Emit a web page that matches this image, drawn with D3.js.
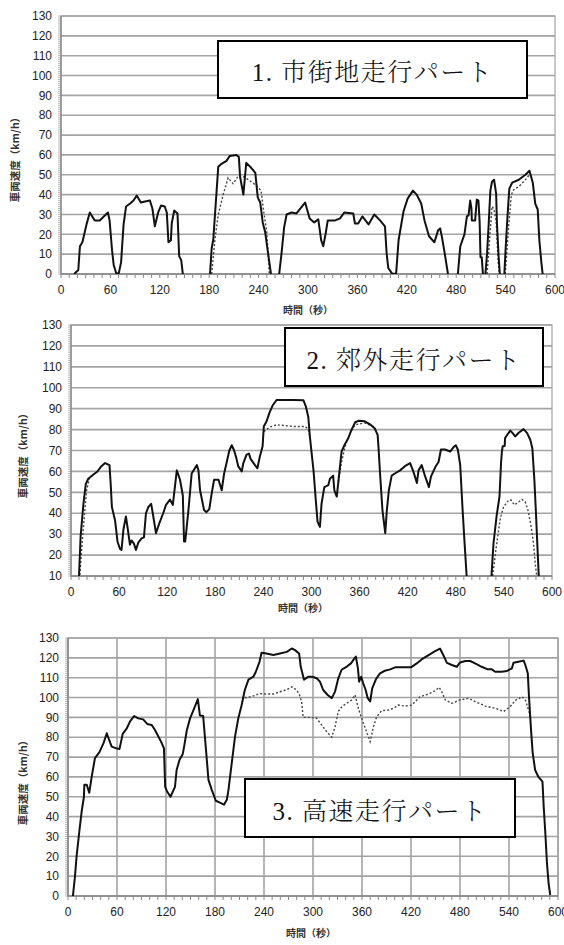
<!DOCTYPE html>
<html><head><meta charset="utf-8">
<script src="https://cdn.jsdelivr.net/npm/d3@7"></script>
<style>
html,body{margin:0;padding:0;background:#fff;}
svg{display:block;}
</style></head>
<body>
<svg id="c" width="564" height="945"></svg>
<script>
// ---------- DATA ----------
const xTicks = [0, 60, 120, 180, 240, 300, 360, 420, 480, 540, 600];
const p1YTicks = [0,10,20,30,40,50,60,70,80,90,100,110,120,130];
const p2YTicks = [10,20,30,40,50,60,70,80,90,100,110,120,130];
const p3YTicks = [0,10,20,30,40,50,60,70,80,90,100,110,120,130];
const titles = ["1. 市街地走行パート", "2. 郊外走行パート", "3. 高速走行パート"];
const yTitle = "車両速度（km/h）";
const xTitle = "時間（秒）";

// Panel 1 (city) – solid: time (s) / speed (km/h); null = break
const p1SolidT = [16,21,23,26,31,35,41,47,57,59,61,62,64,67,70,73,76,79,84,88,92,97,102,108,111,114,118,121.5,126,128.5,130.5,133.5,134.5,137.5,141.5,143.5,146,148,148,
 181,183,185,191,195,201,205,213,216,217.5,221.5,225,231,236,239,242,245,248,252,255,255,
 265,268,271,274,280,286,296.5,302,307.5,312.5,316,318.5,321.5,324,333,339,344,355,357,361,366,373.5,380.5,387.5,393.5,395.5,397.5,402,407,410,416,421,427.5,432,437.5,441.5,447,453.5,458,460.5,462.5,466,470,470,
 482,485,490,493,495,497,498.5,499,503,505,507,508.5,509.5,511,512.5,512.5,
 515.5,517.5,519.5,521.5,523.5,526,528.5,529.5,531.5,533,533,
 538.5,540,542,544.5,548,556,564,569,570,573,576,579,581,583.5,585];
const p1SolidV = [0,2,14,16,25,31,27,27,31,27,17,12,4.5,0.5,0,6,25,34,35.5,37,39.5,36,36.5,37,33,24,31,34.5,34,31,16,17,25.5,32,30.5,9,7,0,null,
 0,13,17.5,54,55.5,57,59.5,60,59,49,40,56,53.5,51,38.5,36,26,21,9,0,null,
 0,11,23.5,30,31,30.5,36,28,26,27.5,17,14,20.5,27,27,28,31,30.5,25.5,25.5,29,25,30,27,24,10.5,3,0.3,0,17,31.5,38,42,40,35.5,27,19,16,22,23,19,10.5,0,null,
 0,14,20,29,29.5,37,33,27,27,37.5,37,26,8.5,8.5,0,null,
 0,10.5,25.5,42,46.5,47.5,40.5,25.5,9,0,null,
 0,12.5,27,43,46,47.5,50,52,50.5,46,35.5,32.5,17,5.5,0];
const p1DotT = [183,187,191,197,203,209,215.5,221.5,227.5,236,243,246,250,253,253,
 517.5,520.5,523.5,525.5,528.5,531,532.5,532.5,
 539.5,544,547,550,556,564,570];
const p1DotV = [0,17.5,30,40,48.5,45.5,49.5,49,47.5,45,42,32,21,0,null,
 0,17,34,33,27,5.5,0,null,
 0,25.5,40,42.5,44,47.5,50.5];

// Panel 2 (suburban)
const p2SolidT = [10,12,15.5,18.5,21.5,28,33,38,42.5,48,49.5,51,55,58,61,63,65.5,68.5,71,73.5,75.5,78.5,81,84,88,91,93.5,96.5,100,102,106,110,115,118.5,123.5,127,132,136,139.5,141,142.5,146.5,150.5,157,159,161,166,169,172.5,175.5,178.5,184,188,191,194,197.5,200.5,203.5,206.5,208.5,213,215,219,222,224,229.5,232.5,235.5,239,240.5,244,247.5,251.5,256.5,277,290,293,296,298,302.5,305,307.5,310.5,312.5,316,321,323,327,328.5,331.5,333.5,337.5,341,346,350,354.5,358.5,366,373,379,382.5,383.5,385.5,388.5,392,394,396.5,400,404,410.5,416.5,423,427,431.5,433.5,437.5,441,446.5,449,455,458.5,461.5,466.5,473,477,480,482.5,485.5,488.5,491,493.5,493.5,
 524.5,527,531,534.5,536.5,537.5,538.5,541,541.5,545,548,551,554,558.5,564.5,569,573,575.5,578,580,582,583.5];
const p2SolidV = [10,29,44.5,54,56.5,58.5,60,62.5,64,63,54,43,36.5,26.5,23,22.5,32.5,38.5,32,25,27,25.5,22.5,26,28,28.5,40,43,44.5,40,30.5,35,40,44,46.5,44,60.5,56,48.5,26.5,26.5,41.5,59,63,60.5,51,41.5,40.5,42,49.5,56,56,51,59,64,70,72.5,70,66,62.5,60,64,68,68.5,66,63,61.5,67,72,81.5,84,88,91.5,94.2,94.2,94,91,86,76.5,60.5,48,36,33.5,44.5,52.5,53.5,56.5,58,51,48,55,69.5,72.5,76,80,83.5,84.2,84,82.5,80.5,77.5,72,59,41.5,30.5,41.5,51,58,59,60.5,62.5,64,60,54.5,60.5,63,58.5,52.5,57.5,62.5,64.5,70.5,70.5,69.5,71.5,72.5,70.5,63,41.5,25.5,10,null,
 10,25.5,39,48,64.5,69.5,72,72.2,76,78,79.5,78.3,76.7,78.5,80.2,78.3,75,71,56,40,22.5,10];
const p2DotT = [11,14.5,19.5,23,23,
 240.5,248,256.5,277,292,296,298,298,
 333.5,337.5,341,343,343,
 350,354.5,366,377,381,381,
 526,531,535.5,539.5,546,549,553,556,562.5,566.5,570,574,577,579,581];
const p2DotV = [10.5,29,51,56.7,null,
 79,81.2,82.3,81.5,81.5,80.2,76.5,null,
 55,64.5,70.5,73.5,null,
 79.5,82.3,83.2,81.5,79.5,null,
 10,25.5,37.5,43,46.3,46.3,44,44.7,46.6,45.5,41.5,33.5,25.5,16,10];

// Panel 3 (highway)
const p3SolidT = [6,8.5,10.5,14,16.7,19.5,20,23,26,29,33,38.5,43.5,47.5,50.5,53.5,59,63,67,72,76,81,86,92,97,102.5,106.5,110.5,114.5,117.5,119,121.5,125.5,131,133,136.5,140.5,142.5,145.5,149.5,154.5,159,161.5,165.5,169,172,176,181,186,191,194.5,196.5,200.5,204.5,208.5,212.5,216.5,221,227,230,234.5,237,243,251.5,259.5,268,274,278,283,285,289,294.5,299,304.5,308.5,312.5,318,323,327,331,335,341.5,346.5,349.5,352.5,355,356.5,359,361.5,364.5,367,370,372.5,377,382,388,394.5,400.5,420,427,433,441.5,449.5,455.5,459.5,464,470,476,480,486.5,492.5,498.5,506.5,514,519,523,531,537.5,543.5,545.5,551.5,558,560,563,564.5,567,569,572,576,581,582.5,584.5,586.5,588.5,590.5];
const p3SolidV = [0,9.7,20,33,42.5,50,56,56,52,60,69.5,72.5,77,82,78.5,75.3,74.4,74,81.7,84.5,88,90.7,89.5,89,86.7,86.2,83.6,80.5,77.3,74.4,55,52.5,50,55,63.5,68.5,71.5,76,83.5,89.5,94.5,99.2,91,90.7,73.5,58.5,53.5,48,47,46,48.5,53.5,67,80.3,89.5,96,103.8,109,110.5,113,118,122.6,122.2,121.4,122.2,123,124.7,123.9,122.2,115.5,109,110.5,110.5,109.7,108,103.8,101.3,99.7,103,109.7,114,115.6,117.2,119,120.6,114.7,108,110.5,107.2,103.8,99.7,98,104.6,109.2,112.2,113.5,114.2,115.2,115.2,117.2,119.2,121.4,123.4,124.7,121.4,117.5,116.4,115.5,117.7,118.4,118.4,117.2,115.5,114.2,114.2,113,113,113.4,114.7,117.5,118,118.6,116.4,112.2,100.4,83.6,72,63.5,60,57.6,45,31.6,16.5,6.4,0.5];
const p3DotT = [216.5,219,227,235,243,251.5,259.5,268,274,280,283.5,286,288,296,304.5,310.5,316.5,323,327,331,336,341.5,347.5,351.5,355.5,359.5,364,370,374,378,384,392.5,398.5,404.5,412.5,421,431,441.5,449.5,454.5,457.5,462,470,480,490.5,498.5,511,523,533.5,541.5,547.5,556,560,564.5,566];
const p3DotV = [100,99.9,100.8,102,101.8,101.8,102.9,104,105.4,103.8,101.3,98,90,90,89.6,86.2,83,80,85.3,93,95.7,97.1,98.8,101.3,94.6,89.6,84.5,77.8,85.3,90.3,93.4,93.7,94.6,96.2,95.7,96.2,100.4,101.8,103.4,105.1,103,98.8,97.1,98.8,99.6,98,95.7,94.6,93,95.4,98.5,100.4,98.8,93,90];

// ---------- LAYOUT ----------
const panels = [
  {left:61, right:555, top:16, bottom:274, yMin:0, yTicks:p1YTicks, vGrid:false,
   solidT:p1SolidT, solidV:p1SolidV, dotT:p1DotT, dotV:p1DotV, title:titles[0],
   box:[218,41,527,98], yLabelX:15, yLabelY:157, xLabelX:308, xLabelY:310},
  {left:71, right:552, top:325, bottom:576, yMin:10, yTicks:p2YTicks, vGrid:false,
   solidT:p2SolidT, solidV:p2SolidV, dotT:p2DotT, dotV:p2DotV, title:titles[1],
   box:[285,328,543,386], yLabelX:23, yLabelY:453, xLabelX:303, xLabelY:608},
  {left:68, right:558, top:638, bottom:896, yMin:0, yTicks:p3YTicks, vGrid:true,
   solidT:p3SolidT, solidV:p3SolidV, dotT:p3DotT, dotV:p3DotV, title:titles[2],
   box:[245,779,515,837], yLabelX:23, yLabelY:780, xLabelX:311, xLabelY:933}
];

const svg = d3.select("#c");
const gridColor = "#a3a3a3";
const numFont = "'Liberation Sans', Arial, sans-serif";
const jpFont = "'Noto Sans CJK JP', sans-serif";

panels.forEach((p, i) => {
  const x = d3.scaleLinear().domain([0, 600]).range([p.left, p.right]);
  const y = d3.scaleLinear().domain([p.yMin, 130]).range([p.bottom, p.top]);
  const g = svg.append("g");
  const clipId = "clip" + i;
  svg.append("clipPath").attr("id", clipId).append("rect")
    .attr("x", p.left).attr("y", p.top - 2).attr("width", p.right - p.left).attr("height", p.bottom - p.top + 2);

  g.selectAll(".hg").data(p.yTicks).join("line")
    .attr("x1", p.left).attr("x2", p.right)
    .attr("y1", d => y(d)).attr("y2", d => y(d))
    .attr("stroke", gridColor).attr("stroke-width", 1.6);
  if (p.vGrid) {
    g.selectAll(".vg").data(xTicks).join("line")
      .attr("x1", d => x(d)).attr("x2", d => x(d))
      .attr("y1", p.top).attr("y2", p.bottom)
      .attr("stroke", gridColor).attr("stroke-width", 1.6);
  }
  g.append("rect").attr("x", p.left).attr("y", p.top)
    .attr("width", p.right - p.left).attr("height", p.bottom - p.top)
    .attr("fill", "none").attr("stroke", gridColor).attr("stroke-width", 1.2);

  const yMinor = d3.range(p.yMin, 130.01, 1);
  g.selectAll(".ym").data(yMinor).join("line")
    .attr("x1", p.left - 3).attr("x2", p.left)
    .attr("y1", d => y(d)).attr("y2", d => y(d))
    .attr("stroke", "#9a9a9a").attr("stroke-width", 0.7);
  g.append("line").attr("x1", p.left).attr("x2", p.left).attr("y1", p.top).attr("y2", p.bottom)
    .attr("stroke", "#888").attr("stroke-width", 1.3);
  const xMinor = d3.range(0, 600.01, 10);
  g.selectAll(".xm").data(xMinor).join("line")
    .attr("x1", d => x(d)).attr("x2", d => x(d))
    .attr("y1", p.bottom).attr("y2", p.bottom + 4)
    .attr("stroke", "#888").attr("stroke-width", 1);
  g.append("line").attr("x1", p.left).attr("x2", p.right).attr("y1", p.bottom).attr("y2", p.bottom)
    .attr("stroke", "#888").attr("stroke-width", 1.3);

  g.selectAll(".yl").data(p.yTicks).join("text")
    .attr("x", p.left - 9).attr("y", d => y(d)).attr("dy", "0.35em")
    .attr("text-anchor", "end").attr("font-family", numFont).attr("font-size", 12)
    .attr("fill", "#222").text(d => d);
  g.selectAll(".xl").data(xTicks).join("text")
    .attr("x", d => x(d)).attr("y", p.bottom + 16).attr("dy", "0.35em")
    .attr("text-anchor", "middle").attr("font-family", numFont).attr("font-size", 12)
    .attr("fill", "#222").text(d => d);

  g.append("text").attr("transform", `translate(${p.yLabelX},${p.yLabelY}) rotate(-90)`)
    .attr("text-anchor", "middle").attr("dy", "0.35em")
    .attr("font-family", jpFont).attr("font-size", 10.5).attr("font-weight", "bold")
    .attr("fill", "#333").text(yTitle);
  g.append("text").attr("x", p.xLabelX).attr("y", p.xLabelY).attr("dy", "0.35em")
    .attr("text-anchor", "middle").attr("font-family", jpFont).attr("font-size", 10)
    .attr("font-weight", "bold").attr("fill", "#333").text(xTitle);

  const toPts = (T, V) => T.map((t, k) => ({t, v: V[k]}));
  const line = d3.line().defined(d => d.v !== null)
    .x(d => x(d.t)).y(d => y(d.v));
  const lg = g.append("g").attr("clip-path", `url(#${clipId})`);
  lg.append("path").attr("d", line(toPts(p.dotT, p.dotV)))
    .attr("fill", "none").attr("stroke", "#444").attr("stroke-width", 1.4)
    .attr("stroke-dasharray", "2,2");
  lg.append("path").attr("d", line(toPts(p.solidT, p.solidV)))
    .attr("fill", "none").attr("stroke", "#111").attr("stroke-width", 2)
    .attr("stroke-linejoin", "round");

  const [bx0, by0, bx1, by1] = p.box;
  g.append("rect").attr("x", bx0).attr("y", by0).attr("width", bx1 - bx0).attr("height", by1 - by0)
    .attr("fill", "#fff").attr("stroke", "#000").attr("stroke-width", 2);
  g.append("text").attr("x", (bx0 + bx1) / 2).attr("y", (by0 + by1) / 2 + 3).attr("dy", "0.35em")
    .attr("text-anchor", "middle")
    .attr("font-family", "'Liberation Serif', 'Noto Serif CJK JP', 'Noto Sans CJK JP', serif")
    .attr("font-size", 25).attr("font-weight", 300).attr("letter-spacing", 1.5)
    .attr("fill", "#111").text(p.title);
});
</script>
</body></html>
